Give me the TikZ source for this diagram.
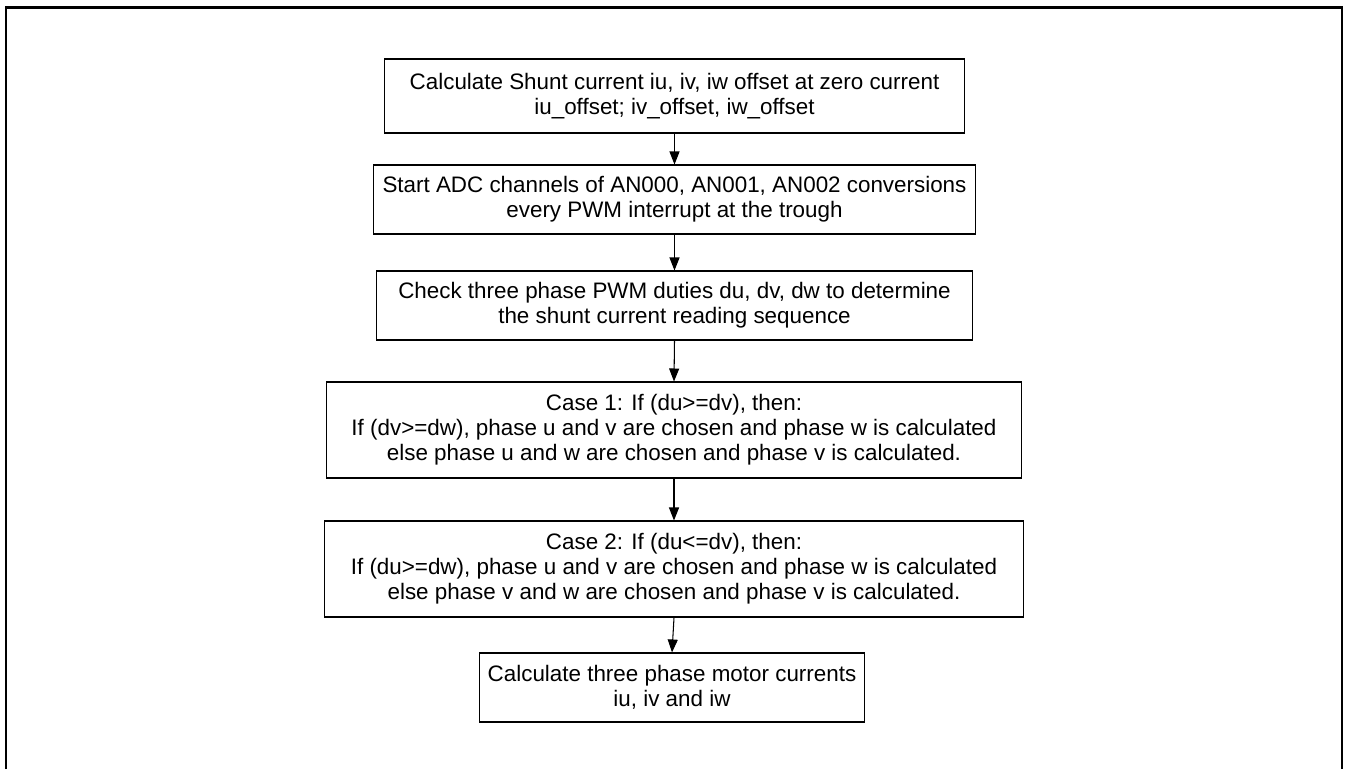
\documentclass[tikz,border=0pt]{standalone}
\usepackage{fontspec}
\setmainfont{Liberation Sans}
\usetikzlibrary{arrows.meta}
\begin{document}
\begin{tikzpicture}[x=0.02cm,y=-0.02cm,
        procbox/.style={draw,line width=0.6pt,align=center,inner sep=0pt,
            font=\fontsize{12.75}{14.3}\selectfont},
        flow/.style={line width=0.6pt,-{Triangle[length=0.26cm,width=0.2cm]}}]
        \useasboundingbox (0,0) rectangle (1346,769);
        \draw[line width=1.5pt] (6,769) -- (6,7.5) -- (1342,7.5) -- (1342,769);
        \node[procbox,minimum width=11.62cm,minimum height=1.48cm] (offset) at (674.5,96)
            {Calculate Shunt current iu, iv, iw offset at zero current\\iu\_offset; iv\_offset, iw\_offset};
        \node[procbox,minimum width=12.06cm,minimum height=1.38cm] (adcstart) at (674.5,199.5)
            {Start ADC channels of AN000, AN001, AN002 conversions\\every PWM interrupt at the trough};
        \node[procbox,minimum width=11.94cm,minimum height=1.38cm] (duties) at (674.5,305.5)
            {Check three phase PWM duties du, dv, dw to determine\\the shunt current reading sequence};
        \node[procbox,minimum width=13.92cm,minimum height=1.92cm] (caseone) at (674,430)
            {Case 1: If (du>=dv), then:\\If (dv>=dw), phase u and v are chosen and phase w is calculated\\else phase u and w are chosen and phase v is calculated.};
        \node[procbox,minimum width=14.00cm,minimum height=1.92cm] (casetwo) at (674,569)
            {Case 2: If (du<=dv), then:\\If (du>=dw), phase u and v are chosen and phase w is calculated\\else phase v and w are chosen and phase v is calculated.};
        \node[procbox,minimum width=7.72cm,minimum height=1.38cm] (motor) at (672,687.5)
            {Calculate three phase motor currents\\iu, iv and iw};
        \foreach \a/\b in {offset/adcstart,adcstart/duties,duties/caseone,caseone/casetwo,casetwo/motor}{
            \draw[flow] (\a.south) -- (\b.north);
        }
    \end{tikzpicture}
\end{document}
